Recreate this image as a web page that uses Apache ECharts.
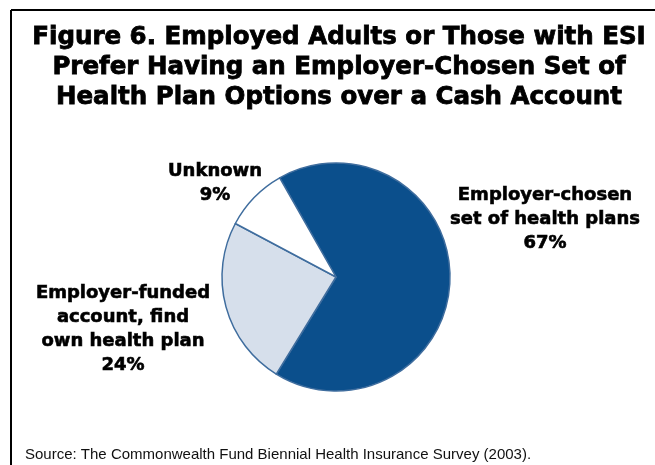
<!DOCTYPE html>
<html>
<head>
<meta charset="utf-8">
<script src="https://cdn.jsdelivr.net/npm/echarts@6/dist/echarts.min.js"></script>
<style>
  html, body { margin: 0; padding: 0; background: #ffffff; }
  #chart { width: 655px; height: 465px; }
</style>
</head>
<body>
<div id="chart"></div>
<script>
// Survey preference shares (percent)
const categories = [
  'Employer-chosen\nset of health plans',
  'Employer-funded\naccount, find\nown health plan',
  'Unknown'
];
const shares = [67, 24, 9];
const sliceColors = ['#0b4f8c', '#d6dfeb', '#ffffff'];

const titleText = 'Figure 6. Employed Adults or Those with ESI\nPrefer Having an Employer-Chosen Set of\nHealth Plan Options over a Cash Account';
const sourceText = 'Source: The Commonwealth Fund Biennial Health Insurance Survey (2003).';

// Where each slice's caption sits (label centre, px)
const labelSpots = [
  { x: 545, y: 219 },
  { x: 123, y: 329 },
  { x: 215, y: 183 }
];

const chart = echarts.init(document.getElementById('chart'), null, { renderer: 'canvas' });

chart.setOption({
  backgroundColor: '#ffffff',
  animation: false,
  title: [
    {
      text: titleText,
      left: 334,
      top: 18,
      textAlign: 'center',
      textStyle: {
        fontFamily: 'DejaVu Sans',
        fontWeight: 'bold',
        fontSize: 24.5,
        lineHeight: 30,
        color: '#000000',
        textBorderColor: '#000000',
        textBorderWidth: 0.8
      }
    },
    {
      text: sourceText,
      left: 20,
      top: 442,
      textStyle: {
        fontFamily: 'Liberation Sans',
        fontWeight: 'normal',
        fontSize: 15,
        color: '#111111'
      }
    }
  ],
  graphic: [
    { type: 'line', shape: { x1: 11, y1: 10, x2: 655, y2: 10 }, style: { stroke: '#000000', lineWidth: 2 } },
    { type: 'line', shape: { x1: 11, y1: 10, x2: 11, y2: 465 }, style: { stroke: '#000000', lineWidth: 2 } }
  ],
  series: [
    {
      type: 'pie',
      center: [336, 277],
      radius: [0, 114],
      startAngle: 119.6,
      clockwise: true,
      silent: true,
      avoidLabelOverlap: false,
      itemStyle: {
        borderColor: '#3f6d9e',
        borderWidth: 1.5
      },
      label: {
        show: true,
        position: 'outside',
        alignTo: 'none',
        overflow: 'none',
        width: 300,
        formatter: p => p.name + '\n' + p.value + '%',
        fontFamily: 'DejaVu Sans',
        fontWeight: 'bold',
        fontSize: 18,
        lineHeight: 24,
        color: '#000000',
        textBorderColor: '#000000',
        textBorderWidth: 0.6,
        align: 'center'
      },
      labelLine: { show: false },
      labelLayout: params => ({
        x: labelSpots[params.dataIndex].x,
        y: labelSpots[params.dataIndex].y,
        align: 'center',
        verticalAlign: 'middle'
      }),
      data: categories.map((name, i) => ({
        name: name,
        value: shares[i],
        itemStyle: { color: sliceColors[i] }
      }))
    }
  ]
});
</script>
</body>
</html>
